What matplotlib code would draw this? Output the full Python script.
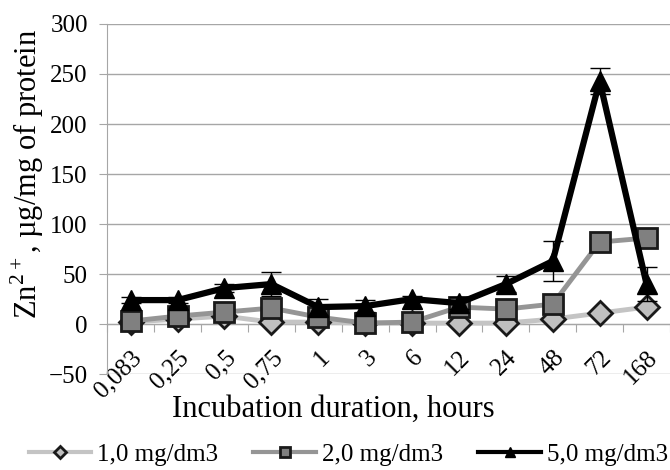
import matplotlib.pyplot as plt
import numpy as np

plt.rcParams['font.family'] = ['Liberation Serif', 'DejaVu Serif']
plt.rcParams['mathtext.fontset'] = 'custom'
plt.rcParams['mathtext.rm'] = 'Liberation Serif'

hours = ['0,083', '0,25', '0,5', '0,75', '1', '3', '6', '12', '24', '48', '72', '168']
zn_1 = [2, 5, 8, 2, 2, 1, 1, 1, 1, 5, 11, 17]
zn_2 = [3, 8, 12, 16, 7, 1, 2, 17, 15, 20, 82, 86]
zn_5 = [24, 24, 36, 40, 17, 18, 25, 21, 40, 63, 243, 40]
err_5 = [3, 3, 4, 12, 8, 6, 3, 6, 8, 20, 13, 17]

fig = plt.figure(figsize=(6.7, 4.7), dpi=100)
ax = fig.add_axes([0.16, 0.204, 0.84, 0.745])
x = np.arange(len(hours))

ax.plot(x, zn_1, color='#c4c4c4', lw=3.5, marker='D', ms=12,
        mfc='#bfbfbf', mec='#1a1a1a', mew=2, label='1,0 mg/dm3', zorder=3)
ax.plot(x, zn_2, color='#959595', lw=3.5, marker='s', ms=14.5,
        mfc='#808080', mec='#1a1a1a', mew=2, label='2,0 mg/dm3', zorder=4)
ax.errorbar(x, zn_5, yerr=err_5, fmt='none', ecolor='black', elinewidth=1,
            capsize=7, capthick=1, zorder=5)
ax.plot(x, zn_5, color='black', lw=4.5, marker='^', ms=15,
        mfc='black', mec='black', label='5,0 mg/dm3', zorder=6)

ax.set_xlim(-0.5, len(hours) - 0.5)
ax.set_ylim(-50, 300)
ax.set_yticks(np.arange(-50, 301, 50))
ax.grid(axis='y', color='#a6a6a6', lw=1)
ax.set_axisbelow(True)

for s in ['top', 'right']:
    ax.spines[s].set_visible(False)
ax.spines['left'].set_color('#a6a6a6')
ax.spines['bottom'].set_position(('data', 0))
ax.spines['bottom'].set_color('#a6a6a6')

# tick marks between categories, labels at category centres
ax.set_xticks(np.arange(-0.5, len(hours), 1))
ax.set_xticklabels([])
ax.set_xticks(x, minor=True)
ax.set_xticklabels(hours, minor=True, rotation=45, ha='right',
                   rotation_mode='anchor', fontsize=18)
ax.tick_params(axis='x', which='major', direction='out', length=6, color='#a6a6a6')
ax.tick_params(axis='x', which='minor', length=0, pad=16)
ax.tick_params(axis='y', direction='out', length=6, color='#a6a6a6',
               labelsize=18, pad=8)

fig.text(0.497, 0.13, 'Incubation duration, hours', fontsize=22,
         ha='center', va='center')
fig.text(0.04, 0.63, r'Zn$^{\mathrm{2+}}$, µg/mg of protein', fontsize=22,
         rotation=90, ha='center', va='center')

leg = fig.legend(loc='center', bbox_to_anchor=(0.52, 0.032), ncol=3, frameon=False,
                 fontsize=18, handlelength=2.5, columnspacing=1.4, handletextpad=0.25,
                 borderaxespad=0, borderpad=0, markerscale=0.5)
for h in leg.legend_handles:
    h.set_linewidth(3)

fig.savefig('out.png', dpi=100)
